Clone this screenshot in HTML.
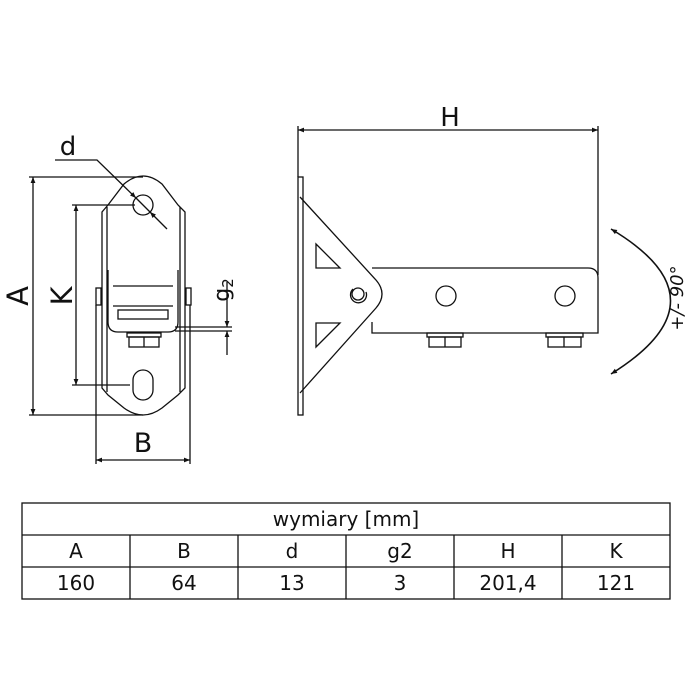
<!DOCTYPE html>
<html><head><meta charset="utf-8"><style>
body{margin:0;background:#fff;}
svg{display:block;}
text{font-family:"DejaVu Sans","Liberation Sans",sans-serif;fill:#111;}
</style></head><body>
<svg width="696" height="696" viewBox="0 0 696 696" xmlns="http://www.w3.org/2000/svg">
<defs>
<marker id="ar" viewBox="0 0 10 10" refX="10" refY="5" markerWidth="10" markerHeight="6" orient="auto-start-reverse" markerUnits="userSpaceOnUse"><path d="M0,1 L10,5 L0,9 z" fill="#111"/></marker>
</defs>
<g stroke="#111" stroke-width="1.3" fill="none">
<!-- Front view -->
<path d="M102,388 L102,212 L108,205 L124,184 Q143,168 162,184 L178,205 L185,212 L185,388 L178,395 L162,408 Q143,422 124,408 L108,395 Z"/>
<line x1="107" y1="207" x2="107" y2="392"/>
<line x1="180" y1="207" x2="180" y2="392"/>
<circle cx="143" cy="205" r="10"/>
<rect x="133" y="370" width="20" height="30" rx="10"/>
<path d="M108,270 L108,322 Q108,332 118,332 L168,332 Q178,332 178,322 L178,270"/>
<line x1="113" y1="286" x2="173" y2="286"/>
<line x1="113" y1="306" x2="173" y2="306"/>
<rect x="118" y="310" width="50" height="9"/>
<rect x="127" y="333" width="34" height="4"/>
<rect x="129" y="337" width="30" height="10"/>
<line x1="144" y1="337" x2="144" y2="347"/>
<rect x="96" y="288" width="5" height="17"/>
<rect x="186" y="288" width="5" height="17"/>
<!-- A dim -->
<line x1="29" y1="177" x2="143" y2="177"/>
<line x1="29" y1="415" x2="143" y2="415"/>
<line x1="33" y1="177" x2="33" y2="415" marker-start="url(#ar)" marker-end="url(#ar)"/>
<!-- K dim -->
<line x1="72" y1="205" x2="135" y2="205"/>
<line x1="72" y1="385" x2="130" y2="385"/>
<line x1="76" y1="205" x2="76" y2="385" marker-start="url(#ar)" marker-end="url(#ar)"/>
<!-- B dim -->
<line x1="96" y1="305" x2="96" y2="464"/>
<line x1="190" y1="305" x2="190" y2="464"/>
<line x1="96" y1="460" x2="190" y2="460" marker-start="url(#ar)" marker-end="url(#ar)"/>
<!-- d leader -->
<polyline points="55,160 97,160 136,198" marker-end="url(#ar)"/>
<line x1="167" y1="229" x2="150" y2="212" marker-end="url(#ar)"/>
<line x1="136" y1="198" x2="150" y2="212"/>
<!-- g2 -->
<line x1="175" y1="327" x2="232" y2="327"/>
<line x1="175" y1="331" x2="232" y2="331"/>
<line x1="227" y1="282" x2="227" y2="327" marker-end="url(#ar)"/>
<line x1="227" y1="355" x2="227" y2="331" marker-end="url(#ar)"/>
<!-- Side view -->
<rect x="298" y="177" width="5" height="238"/>
<path d="M300,197 L376,280 Q388,294 376,308 L300,393"/>
<path d="M316,244 L316,268 L340,268 Z"/>
<path d="M316,347 L316,323 L340,323 Z"/>
<circle cx="358" cy="294" r="6"/>
<path d="M353,289 A8,8 0 1 0 366,292"/>
<path d="M372,268 L588,268 Q598,268 598,278 L598,333 L372,333 L372,322"/>
<circle cx="446" cy="296" r="10"/>
<circle cx="565" cy="296" r="10"/>
<rect x="427" y="333" width="36" height="4"/>
<rect x="429" y="337" width="32" height="10"/>
<line x1="445" y1="337" x2="445" y2="347"/>
<rect x="546" y="333" width="37" height="4"/>
<rect x="548" y="337" width="33" height="10"/>
<line x1="564" y1="337" x2="564" y2="347"/>
<!-- H dim -->
<line x1="298" y1="126" x2="298" y2="177"/>
<line x1="598" y1="126" x2="598" y2="275"/>
<line x1="298" y1="130" x2="598" y2="130" marker-start="url(#ar)" marker-end="url(#ar)"/>
<!-- rotation arc -->
<path d="M611,229 Q730,300 611,374" stroke-width="1.6" marker-start="url(#ar)" marker-end="url(#ar)"/>
<!-- table -->
<rect x="22" y="503" width="648" height="96"/>
<line x1="22" y1="535" x2="670" y2="535"/>
<line x1="22" y1="567" x2="670" y2="567"/>
<line x1="130" y1="535" x2="130" y2="599"/>
<line x1="238" y1="535" x2="238" y2="599"/>
<line x1="346" y1="535" x2="346" y2="599"/>
<line x1="454" y1="535" x2="454" y2="599"/>
<line x1="562" y1="535" x2="562" y2="599"/>
</g>
<text x="68" y="155" font-size="26" text-anchor="middle">d</text>
<text x="143" y="452" font-size="27" text-anchor="middle">B</text>
<text transform="translate(28,296) rotate(-90)" font-size="29" text-anchor="middle">A</text>
<text transform="translate(72,296) rotate(-90)" font-size="29" text-anchor="middle">K</text>
<text transform="translate(229,290) rotate(-90)" font-size="22" text-anchor="middle">g<tspan font-size="15" dy="4">2</tspan></text>
<text x="450" y="126" font-size="26" text-anchor="middle">H</text>
<text transform="translate(683,298) rotate(-90)" font-size="18" text-anchor="middle" font-style="italic">+/- 90°</text>
<g font-size="20" text-anchor="middle">
<text x="346" y="526">wymiary [mm]</text>
<text x="76" y="558">A</text><text x="184" y="558">B</text><text x="292" y="558">d</text><text x="400" y="558">g2</text><text x="508" y="558">H</text><text x="616" y="558">K</text>
<text x="76" y="590">160</text><text x="184" y="590">64</text><text x="292" y="590">13</text><text x="400" y="590">3</text><text x="508" y="590">201,4</text><text x="616" y="590">121</text>
</g>
</svg>
</body></html>
